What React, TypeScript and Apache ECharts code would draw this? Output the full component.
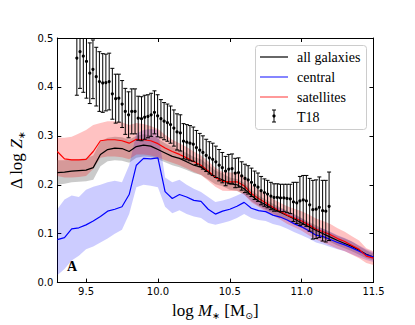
import React, { useEffect, useRef } from "react";
import * as echarts from "echarts";

// ---- data ----
const massGrid = [9.30, 9.35, 9.40, 9.45, 9.50, 9.55, 9.60, 9.65, 9.70, 9.75, 9.80, 9.85, 9.90, 9.95,
  10.00, 10.05, 10.10, 10.15, 10.20, 10.25, 10.30, 10.35, 10.40, 10.45, 10.50, 10.55, 10.60, 10.65, 10.70, 10.75,
  10.80, 10.85, 10.90, 10.95, 11.00, 11.05, 11.10, 11.15, 11.20, 11.25, 11.30, 11.35, 11.40, 11.45, 11.50];

const allLine = [0.225, 0.226, 0.228, 0.229, 0.230, 0.235, 0.262, 0.272, 0.275, 0.274, 0.268, 0.278, 0.281, 0.279,
  0.272, 0.265, 0.258, 0.254, 0.247, 0.240, 0.236, 0.226, 0.215, 0.210, 0.202, 0.200, 0.192, 0.178, 0.167, 0.159,
  0.151, 0.144, 0.137, 0.130, 0.122, 0.114, 0.107, 0.100, 0.093, 0.086, 0.080, 0.074, 0.066, 0.058, 0.052];
const allLo = [0.200, 0.202, 0.205, 0.206, 0.207, 0.210, 0.238, 0.248, 0.250, 0.249, 0.245, 0.255, 0.258, 0.257,
  0.252, 0.246, 0.240, 0.236, 0.230, 0.224, 0.220, 0.211, 0.201, 0.197, 0.190, 0.188, 0.180, 0.167, 0.157, 0.149,
  0.141, 0.134, 0.127, 0.120, 0.112, 0.104, 0.097, 0.090, 0.083, 0.076, 0.070, 0.064, 0.057, 0.050, 0.045];
const allHi = [0.250, 0.250, 0.252, 0.252, 0.254, 0.260, 0.288, 0.296, 0.298, 0.297, 0.292, 0.300, 0.303, 0.301,
  0.294, 0.285, 0.277, 0.272, 0.265, 0.257, 0.252, 0.241, 0.229, 0.223, 0.215, 0.212, 0.204, 0.190, 0.178, 0.170,
  0.161, 0.154, 0.147, 0.140, 0.132, 0.124, 0.117, 0.110, 0.103, 0.096, 0.090, 0.084, 0.075, 0.066, 0.059];

const cenLine = [0.088, 0.092, 0.110, 0.112, 0.118, 0.126, 0.135, 0.146, 0.150, 0.155, 0.180, 0.240, 0.254, 0.253,
  0.255, 0.186, 0.172, 0.180, 0.175, 0.168, 0.166, 0.150, 0.140, 0.146, 0.150, 0.156, 0.164, 0.152, 0.147, 0.145,
  0.138, 0.134, 0.128, 0.120, 0.114, 0.106, 0.097, 0.094, 0.088, 0.082, 0.077, 0.071, 0.064, 0.057, 0.052];
const cenLo = [0.015, 0.028, 0.045, 0.055, 0.068, 0.074, 0.082, 0.090, 0.100, 0.108, 0.140, 0.195, 0.200, 0.198,
  0.195, 0.155, 0.142, 0.148, 0.140, 0.135, 0.132, 0.122, 0.118, 0.122, 0.126, 0.132, 0.140, 0.132, 0.128, 0.126,
  0.120, 0.116, 0.110, 0.103, 0.097, 0.090, 0.082, 0.078, 0.073, 0.068, 0.064, 0.058, 0.052, 0.046, 0.042];
const cenHi = [0.150, 0.170, 0.178, 0.175, 0.190, 0.196, 0.200, 0.205, 0.208, 0.205, 0.240, 0.305, 0.312, 0.314,
  0.312, 0.215, 0.205, 0.210, 0.200, 0.192, 0.185, 0.175, 0.165, 0.168, 0.172, 0.178, 0.185, 0.174, 0.167, 0.162,
  0.156, 0.152, 0.146, 0.138, 0.131, 0.122, 0.113, 0.110, 0.104, 0.097, 0.091, 0.084, 0.076, 0.068, 0.062];

const satLine = [0.268, 0.253, 0.251, 0.251, 0.252, 0.268, 0.290, 0.292, 0.292, 0.290, 0.285, 0.293, 0.292, 0.290,
  0.284, 0.275, 0.268, 0.262, 0.255, 0.247, 0.240, 0.228, 0.215, 0.207, 0.206, 0.206, 0.198, 0.182, 0.172, 0.163,
  0.154, 0.146, 0.138, 0.132, 0.126, 0.118, 0.109, 0.104, 0.098, 0.090, 0.084, 0.076, 0.068, 0.054, 0.050];
const satLo = [0.218, 0.215, 0.215, 0.216, 0.218, 0.232, 0.255, 0.258, 0.258, 0.256, 0.252, 0.262, 0.262, 0.260,
  0.256, 0.250, 0.245, 0.240, 0.233, 0.226, 0.220, 0.208, 0.196, 0.188, 0.187, 0.187, 0.180, 0.164, 0.155, 0.146,
  0.137, 0.129, 0.120, 0.113, 0.106, 0.097, 0.088, 0.082, 0.076, 0.069, 0.064, 0.057, 0.050, 0.040, 0.036];
const satHi = [0.296, 0.296, 0.298, 0.305, 0.312, 0.322, 0.326, 0.330, 0.330, 0.328, 0.322, 0.326, 0.324, 0.320,
  0.314, 0.302, 0.292, 0.285, 0.277, 0.268, 0.260, 0.248, 0.235, 0.226, 0.225, 0.225, 0.217, 0.200, 0.190, 0.180,
  0.171, 0.163, 0.156, 0.151, 0.146, 0.139, 0.131, 0.126, 0.120, 0.111, 0.104, 0.095, 0.086, 0.070, 0.064];

const t18Mass = [9.436, 9.458, 9.481, 9.503, 9.526, 9.548, 9.571, 9.593, 9.616, 9.638, 9.661, 9.683, 9.706, 9.728,
  9.751, 9.773, 9.796, 9.818, 9.841, 9.863, 9.886, 9.908, 9.931, 9.953, 9.976, 9.998, 10.021, 10.043, 10.066,
  10.088, 10.111, 10.133, 10.156, 10.178, 10.201, 10.223, 10.246, 10.268, 10.291, 10.313, 10.336, 10.358, 10.381,
  10.403, 10.426, 10.448, 10.471, 10.493, 10.516, 10.538, 10.561, 10.583, 10.606, 10.628, 10.651, 10.673, 10.696,
  10.718, 10.741, 10.763, 10.786, 10.808, 10.831, 10.853, 10.876, 10.898, 10.921, 10.943, 10.966, 10.988, 11.011,
  11.033, 11.056, 11.078, 11.101, 11.123, 11.146, 11.168, 11.191];
const t18Val = [0.459, 0.472, 0.463, 0.452, 0.428, 0.436, 0.421, 0.411, 0.408, 0.409, 0.411, 0.386, 0.376, 0.377,
  0.365, 0.350, 0.343, 0.350, 0.350, 0.336, 0.335, 0.338, 0.340, 0.343, 0.348, 0.341,
  0.335, 0.330, 0.327, 0.323, 0.316, 0.308, 0.306, 0.289, 0.287, 0.285, 0.283, 0.276, 0.271, 0.266, 0.260, 0.255,
  0.252, 0.247, 0.240, 0.235, 0.228, 0.232, 0.233, 0.224, 0.225, 0.218, 0.213, 0.210, 0.205, 0.199, 0.195, 0.188,
  0.184, 0.181, 0.177, 0.174, 0.174, 0.173, 0.173, 0.172, 0.171, 0.165, 0.163, 0.167, 0.169, 0.167, 0.159, 0.149,
  0.150, 0.154, 0.147, 0.146, 0.156];
const t18Err = [0.076, 0.075, 0.074, 0.075, 0.062, 0.060, 0.060, 0.061, 0.060, 0.058, 0.058, 0.052, 0.050,
  0.049, 0.048, 0.047, 0.047, 0.046, 0.046, 0.045, 0.045, 0.045, 0.044, 0.044, 0.044, 0.043,
  0.039, 0.038, 0.038, 0.038, 0.037, 0.037, 0.037, 0.036, 0.036, 0.036, 0.035, 0.035, 0.034, 0.034, 0.033, 0.033,
  0.033, 0.032, 0.032, 0.031, 0.030, 0.030, 0.030, 0.030, 0.030, 0.029, 0.029, 0.029, 0.029, 0.029, 0.029, 0.029,
  0.028, 0.028, 0.028, 0.028, 0.028, 0.028, 0.028, 0.029, 0.030, 0.040, 0.042, 0.050, 0.050, 0.052, 0.054, 0.060,
  0.060, 0.062, 0.062, 0.063, 0.070];

const legendNames = ["all galaxies", "central", "satellites", "T18"];

const SERIF = '"Liberation Serif", "DejaVu Serif", serif';

function bandSeries(name: string, lo: number[], hi: number[], fill: string, z: number) {
  return {
    type: "custom",
    name,
    silent: true,
    z,
    data: [[massGrid[0], lo[0]]],
    encode: { x: 0, y: 1 },
    renderItem: (_params: any, api: any) => {
      const pts: number[][] = [];
      for (let i = 0; i < massGrid.length; i++) pts.push(api.coord([massGrid[i], hi[i]]));
      for (let i = massGrid.length - 1; i >= 0; i--) pts.push(api.coord([massGrid[i], lo[i]]));
      return { type: "polygon", shape: { points: pts }, style: { fill } };
    },
  };
}

function lineSeries(name: string, vals: number[], color: string, z: number) {
  return {
    type: "line",
    name,
    silent: true,
    z,
    symbol: "none",
    showSymbol: false,
    data: massGrid.map((m, i) => [m, vals[i]]),
    lineStyle: { color, width: 1.2 },
    itemStyle: { color },
  };
}

export default function App() {
  const ref = useRef<HTMLDivElement>(null);
  useEffect(() => {
    if (!ref.current) return;
    const chart = echarts.init(ref.current, undefined, { renderer: "svg" });
    const tickFmt = (v: number) => (Math.abs(v * 2 - Math.round(v * 2)) < 1e-6 ? v.toFixed(1) : "");
    const axisCommon = {
      axisLine: { show: true, onZero: false, lineStyle: { color: "#000", width: 1 } },
      axisTick: { show: true, inside: true, length: 4, lineStyle: { color: "#000", width: 1 } },
      splitLine: { show: false },
    };
    const nameRich = {
      n: { fontFamily: SERIF, fontSize: 17, color: "#000", lineHeight: 20 },
      i: { fontFamily: SERIF, fontSize: 17, fontStyle: "italic", color: "#000", lineHeight: 20 },
      s: { fontFamily: "DejaVu Sans", fontSize: 9.5, color: "#000", lineHeight: 9, verticalAlign: "bottom" },
    };
    const option: any = {
      animation: false,
      grid: { left: 52, right: 41.5, top: 38, bottom: 41 },
      xAxis: [
        {
          type: "value", min: 9.3, max: 11.5, splitNumber: 5, position: "bottom", ...axisCommon,
          axisLabel: { show: true, margin: 4, fontSize: 10, color: "#000", fontFamily: "DejaVu Sans", formatter: tickFmt },
          name: "{n|log }{i|M}{s|∗}{n| [M}{s|⊙}{n|]}",
          nameLocation: "middle", nameGap: 14,
          nameTextStyle: { rich: nameRich },
        },
        {
          type: "value", min: 9.3, max: 11.5, splitNumber: 5, position: "top", ...axisCommon,
          axisLabel: { show: false },
        },
      ],
      yAxis: [
        {
          type: "value", min: 0, max: 0.5, interval: 0.1, position: "left", ...axisCommon,
          axisLabel: { show: true, margin: 4, fontSize: 10, color: "#000", fontFamily: "DejaVu Sans", formatter: (v: number) => v.toFixed(1) },
          name: "{n|Δ log }{i|Z}{s|∗}",
          nameLocation: "middle", nameGap: 24, nameRotate: 90,
          nameTextStyle: { rich: nameRich },
        },
        {
          type: "value", min: 0, max: 0.5, interval: 0.1, position: "right", ...axisCommon,
          axisLabel: { show: false },
        },
      ],
      series: [
        bandSeries("all band", allLo, allHi, "rgba(128,128,128,0.42)", 1),
        bandSeries("central band", cenLo, cenHi, "rgba(0,0,255,0.2)", 1),
        bandSeries("satellites band", satLo, satHi, "rgba(255,0,0,0.24)", 1),
        lineSeries(legendNames[0], allLine, "#000000", 3),
        lineSeries(legendNames[1], cenLine, "#0000ff", 3),
        lineSeries(legendNames[2], satLine, "#ff0000", 3),
        {
          type: "custom",
          name: legendNames[3],
          silent: true,
          z: 5,
          data: t18Mass.map((m, i) => [m, t18Val[i], t18Err[i]]),
          encode: { x: 0, y: 1 },
          renderItem: (params: any, api: any) => {
            const x = api.value(0), y = api.value(1), e = api.value(2);
            const c = api.coord([x, y]);
            const t = api.coord([x, y + e]);
            const b = api.coord([x, y - e]);
            const top = params.coordSys.y;
            const yT = Math.max(t[1], top);
            const st = { stroke: "#000", lineWidth: 1 };
            const children: any[] = [
              { type: "line", shape: { x1: c[0], y1: yT, x2: c[0], y2: b[1] }, style: st },
              { type: "line", shape: { x1: c[0] - 2, y1: b[1], x2: c[0] + 2, y2: b[1] }, style: st },
            ];
            if (t[1] >= top) children.push({ type: "line", shape: { x1: c[0] - 2, y1: t[1], x2: c[0] + 2, y2: t[1] }, style: st });
            children.push({ type: "circle", shape: { cx: c[0], cy: c[1], r: 1.6 }, style: { fill: "#000" } });
            return { type: "group", children };
          },
        },
      ],
      graphic: [
        {
          type: "rect", z: 100, shape: { x: 255.5, y: 45.5, width: 111, height: 84, r: 3 },
          style: { fill: "#fff", stroke: "#cccccc", lineWidth: 1 },
        },
        { type: "line", z: 101, shape: { x1: 260, y1: 57, x2: 288, y2: 57 }, style: { stroke: "#000", lineWidth: 1.2 } },
        { type: "line", z: 101, shape: { x1: 260, y1: 77, x2: 288, y2: 77 }, style: { stroke: "#3333ff", lineWidth: 1.2 } },
        { type: "line", z: 101, shape: { x1: 260, y1: 97, x2: 288, y2: 97 }, style: { stroke: "#ff5555", lineWidth: 1.2 } },
        { type: "line", z: 101, shape: { x1: 274, y1: 110, x2: 274, y2: 122 }, style: { stroke: "#000", lineWidth: 1 } },
        { type: "line", z: 101, shape: { x1: 272, y1: 110, x2: 276, y2: 110 }, style: { stroke: "#000", lineWidth: 1 } },
        { type: "line", z: 101, shape: { x1: 272, y1: 122, x2: 276, y2: 122 }, style: { stroke: "#000", lineWidth: 1 } },
        { type: "circle", z: 101, shape: { cx: 274, cy: 116, r: 1.6 }, style: { fill: "#000" } },
        ...legendNames.map((n, i) => ({
          type: "text", z: 101, x: 297, y: 57 + i * 20,
          style: { text: n, fontFamily: SERIF, fontSize: 14, fill: "#000", align: "left", verticalAlign: "middle" },
        })),
        {
          type: "text", z: 101, x: 72, y: 266,
          style: { text: "A", fontFamily: SERIF, fontSize: 14, fontWeight: "bold", fill: "#000", align: "center", verticalAlign: "middle" },
        },
      ],
    };
    chart.setOption(option);
    return () => chart.dispose();
  }, []);
  return <div ref={ref} style={{ position: "absolute", left: 0, top: 0, width: 415, height: 325 }} />;
}
